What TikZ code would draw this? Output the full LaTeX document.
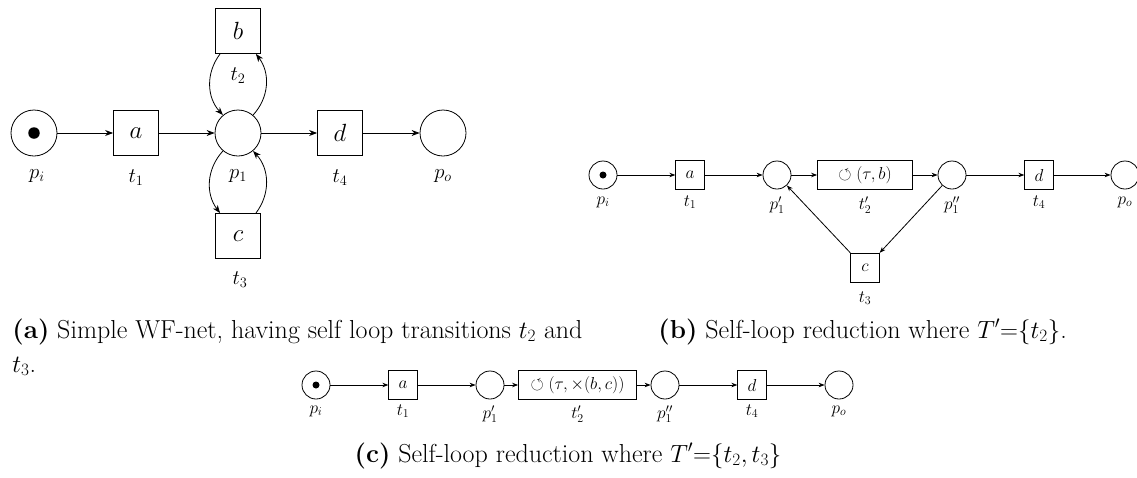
\documentclass[tikz,border=0pt]{standalone}
\usepackage{amssymb}
\usetikzlibrary{arrows.meta,shapes.geometric}
\begin{document}
\begin{tikzpicture}[x=1pt,y=-1pt,
  line width=0.8pt,
  placeA/.style={circle,draw,minimum size=46pt,inner sep=0pt},
  transA/.style={rectangle,draw,minimum size=45pt,inner sep=0pt,font=\fontsize{23}{25}\selectfont},
  lblA/.style={font=\fontsize{22}{24}\selectfont,inner sep=0pt},
  arcA/.style={-{Stealth[length=8pt,width=6pt]}},
  placeB/.style={circle,draw,minimum size=28pt,inner sep=0pt},
  transB/.style={rectangle,draw,minimum width=28.5pt,minimum height=29.5pt,inner sep=0pt,font=\fontsize{17}{19}\selectfont},
  lblB/.style={font=\fontsize{17}{19}\selectfont,inner sep=0pt},
  arcB/.style={-{Stealth[length=6pt,width=4.5pt]}},
  tokA/.style={circle,fill,inner sep=0pt,minimum size=11.5pt},
  tokB/.style={circle,fill,inner sep=0pt,minimum size=7pt},
  captxt/.style={font=\fontsize{26}{30}\selectfont,inner sep=0pt}
]
\useasboundingbox (0,0) rectangle (1137,477);

% ---------- (a) ----------
\node[placeA] (api) at (34,133) {};
\node[tokA] (atok) at (api) {};
\node[transA] (aa) at (136,133) {$a$};
\node[placeA] (ap1) at (238,133) {};
\node[transA] (ad) at (340,133) {$d$};
\node[placeA] (apo) at (443,133) {};
\node[transA] (ab) at (238,31) {$b$};
\node[transA] (ac) at (238,236) {$c$};
\node[lblA] (lapi) at (37,176) {$p_i$};
\node[lblA] (lat1) at (136,178) {$t_1$};
\node[lblA] (lap1) at (238,176) {$p_1$};
\node[lblA] (lat4) at (340,178) {$t_4$};
\node[lblA] (lapo) at (443,176) {$p_o$};
\node[lblA] (lat2) at (238,76) {$t_2$};
\node[lblA] (lat3) at (240,280) {$t_3$};
\draw[arcA] (api) -- (aa);
\draw[arcA] (aa) -- (ap1);
\draw[arcA] (ap1) -- (ad);
\draw[arcA] (ad) -- (apo);
\draw[arcA] ([xshift=5pt]ab.south west) to[bend right=40] (ap1.130);
\draw[arcA] (ap1.50) to[bend right=40] ([xshift=-5pt]ab.south east);
\draw[arcA] (ap1.230) to[bend right=40] ([xshift=5pt]ac.north west);
\draw[arcA] ([xshift=-5pt]ac.north east) to[bend right=40] (ap1.310);

% ---------- (b) ----------
\node[placeB] (bpi) at (603,175) {};
\node[tokB] (btok) at (bpi) {};
\node[transB] (ba) at (690,175) {$a$};
\node[placeB] (bp1) at (777,175) {};
\node[transB,minimum width=95pt] (bt2) at (865,175) {$\circlearrowleft(\tau,b)$};
\node[placeB] (bp1b) at (952,175) {};
\node[transB] (bd) at (1039,175) {$d$};
\node[placeB] (bpo) at (1125,175) {};
\node[transB] (bc) at (865,268) {$c$};
\node[lblB] (lbpi) at (603,202) {$p_i$};
\node[lblB] (lbt1) at (690,202) {$t_1$};
\node[lblB] (lbp1) at (777,205) {$p'_1$};
\node[lblB] (lbt2) at (865,205) {$t'_2$};
\node[lblB] (lbp1b) at (952,205) {$p''_1$};
\node[lblB] (lbt4) at (1039,202) {$t_4$};
\node[lblB] (lbpo) at (1125,202) {$p_o$};
\node[lblB] (lbt3) at (865,298) {$t_3$};
\draw[arcB] (bpi) -- (ba);
\draw[arcB] (ba) -- (bp1);
\draw[arcB] (bp1) -- (bt2);
\draw[arcB] (bt2) -- (bp1b);
\draw[arcB] (bp1b) -- (bd);
\draw[arcB] (bd) -- (bpo);
\draw[arcB] (bp1b) -- (bc.north east);
\draw[arcB] (bc.north west) -- (bp1);

% ---------- (c) ----------
\node[placeB] (cpi) at (316,385) {};
\node[tokB] (ctok) at (cpi) {};
\node[transB] (ca) at (403,385) {$a$};
\node[placeB] (cp1) at (490,385) {};
\node[transB,minimum width=118pt] (ct2) at (577.5,385) {$\circlearrowleft(\tau,\times(b,c))$};
\node[placeB] (cp1b) at (665,385) {};
\node[transB] (cd) at (752,385) {$d$};
\node[placeB] (cpo) at (839,385) {};
\node[lblB] (lcpi) at (316,411) {$p_i$};
\node[lblB] (lct1) at (403,411) {$t_1$};
\node[lblB] (lcp1) at (490,414) {$p'_1$};
\node[lblB] (lct2) at (577.5,414) {$t'_2$};
\node[lblB] (lcp1b) at (665,414) {$p''_1$};
\node[lblB] (lct4) at (752,411) {$t_4$};
\node[lblB] (lcpo) at (839,411) {$p_o$};
\draw[arcB] (cpi) -- (ca);
\draw[arcB] (ca) -- (cp1);
\draw[arcB] (cp1) -- (ct2);
\draw[arcB] (ct2) -- (cp1b);
\draw[arcB] (cp1b) -- (cd);
\draw[arcB] (cd) -- (cpo);

% ---------- captions ----------
\node[captxt,anchor=base west] (capa) at (12,338) {\textbf{(a)} Simple WF-net, having self loop transitions $t_2$ and};
\node[captxt,anchor=base west] (capa2) at (12,372) {$t_3$.};
\node[captxt,anchor=base west] (capb) at (658,338) {\textbf{(b)} Self-loop reduction where $T'{=}\{t_2\}$.};
\node[captxt,anchor=base] (capc) at (568,462) {\textbf{(c)} Self-loop reduction where $T'{=}\{t_2,t_3\}$};
\end{tikzpicture}
\end{document}
